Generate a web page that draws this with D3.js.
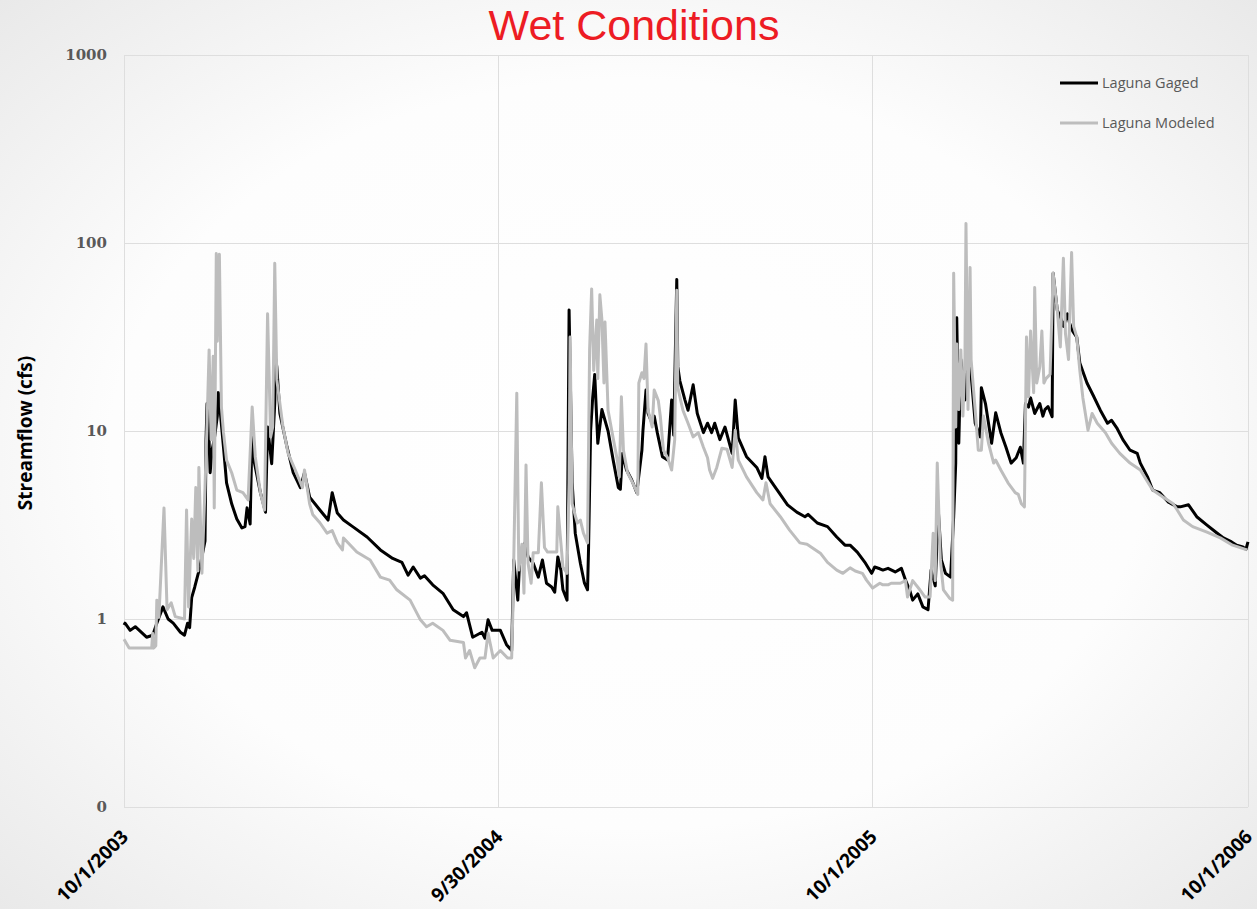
<!DOCTYPE html>
<html>
<head>
<meta charset="utf-8">
<script src="https://cdn.jsdelivr.net/npm/d3@7"></script>
<style>
  html, body { margin: 0; padding: 0; }
  body { width: 1257px; height: 909px; overflow: hidden; }
  svg { display: block; }
</style>
</head>
<body>
<svg id="chart" width="1257" height="909"></svg>
<script>
// Daily streamflow at Laguna, water years 2004-2006.
// Each entry: [days since 10/1/2003, streamflow in cfs]
const startDate = new Date(2003, 9, 1);

const gagedFlow = [
  [0,0.93],[1,0.95],[6,0.87],[11,0.91],[22,0.80],[28,0.82],[32,0.95],[38,1.16],[43,1.0],[48,0.95],
  [55,0.85],[59,0.82],[62,0.95],[64,0.9],[66,1.3],[69,1.48],[74,1.89],[79,2.6],[80,9],[81,14],
  [82,12.5],[84,6],[86,8],[88,9],[91,12],[92,16],[94,12.4],[97,8.2],[100,5.3],[105,4.1],
  [110,3.4],[115,3.05],[118,3.1],[120,3.9],[123,3.2],[125,11],[126,7.3],[133,4.7],[138,3.7],[140,10.5],
  [144,6.7],[147,14],[148,24],[149,22],[152,12.4],[159,8.2],[165,6.0],[172,5.0],[176,6.0],[181,4.45],
  [191,3.8],[199,3.36],[203,4.7],[208,3.66],[214,3.36],[223,3.1],[237,2.73],[250,2.33],[262,2.1],[271,2.0],
  [277,1.71],[282,1.89],[289,1.65],[293,1.7],[301,1.52],[311,1.37],[321,1.12],[331,1.03],[334,1.08],[340,0.80],
  [349,0.85],[352,0.79],[355,0.99],[359,0.87],[367,0.87],[373,0.73],[378,0.68],
  [380,2.06],[384,1.26],[386,2.14],[391,2.54],[394,2.14],[399,1.98],[404,1.67],[408,2.06],[412,1.55],
  [417,1.48],[420,1.39],[423,2.14],[426,1.82],[428,1.43],[432,1.26],[434,44],[437,5.3],[440,2.86],[445,1.98],
  [449,1.55],[452,1.43],[453,2.4],[455,10],[457,15],[459,20],[462,8.6],[466,13],[472,10],[477,7.0],
  [482,5.0],[484,4.9],[486,7.6],[490,6.2],[495,5.5],[500,4.7],[505,7.9],[506,10],[509,16.5],[511,12.4],
  [515,11],[517,12],[520,9.8],[525,7.3],[530,7.0],[534,14.6],[536,9.5],[539,64],[540,22],[542,18.5],
  [547,14.6],[550,12.9],[555,17.6],[559,12.4],[565,9.8],[569,11],[573,9.8],[576,11],[581,9.0],[586,10.5],
  [593,7.6],[596,14.6],[599,9.2],[607,7.3],[617,6.4],[622,5.6],[625,7.3],[628,5.7],[637,4.85],[647,4.05],
  [656,3.7],[664,3.5],[667,3.6],[676,3.24],[686,3.1],[695,2.73],[703,2.47],[708,2.47],[715,2.27],[723,1.98],
  [729,1.75],[732,1.89],
  [737,1.85],[740,1.82],[745,1.86],[752,1.78],[758,1.86],[762,1.61],[766,1.43],[769,1.26],[774,1.36],[779,1.16],
  [784,1.12],[787,1.82],[791,1.5],[794,3.8],[797,2.06],[801,1.75],[806,1.67],[809,3.5],[811,6.75],[812,40],
  [814,8.6],[816,24],[820,14.6],[821,39],[823,26],[826,20],[830,11],[835,9.3],[836,17],[840,14],
  [842,11.9],[846,8.6],[850,12.5],[855,9.8],[860,8.2],[865,6.75],[870,7.2],[874,8.2],[877,6.75],[879,14],
  [882,13.4],[884,15],[888,12.4],[893,14],[896,12],[898,13],[901,13.5],[905,11.9],[906,69],[910,44],
  [913,40.5],[916,36],[920,42],[922,37.5],[925,34],[929,31.6],[932,23],[939,18],[945,15.5],[952,12.9],
  [959,11],[963,11.4],[968,10.4],[974,9.0],[981,7.9],[988,7.6],[991,6.75],[998,5.7],[1003,4.85],[1010,4.7],
  [1018,4.2],[1027,3.95],[1030,3.95],[1038,4.05],[1046,3.5],[1056,3.16],[1066,2.86],[1072,2.7],[1080,2.57],[1085,2.47],
  [1091,2.42],[1094,2.35],[1096,2.57]
];

const modeledFlow = [
  [0,0.78],[5,0.70],[27,0.70],[28,0.84],[29,0.70],[31,0.72],[32,1.26],[34,1.02],[39,3.9],[42,1.12],
  [46,1.22],[50,1.03],[59,1.0],[61,3.8],[63,1.16],[66,3.4],[68,2.1],[70,5.0],[72,1.8],[73,6.4],
  [76,1.75],[79,5.0],[81,11],[83,27],[85,9],[87,25],[88,3.9],[90,88],[91,30],[93,87],
  [95,13.4],[97,9.8],[100,7.0],[105,6.0],[110,4.85],[116,4.7],[121,4.3],[125,13.4],[128,7.3],[133,4.7],
  [137,3.8],[140,42],[143,9.3],[145,10.5],[147,78],[149,18.7],[155,10.5],[160,7.6],[167,6.2],[174,5.0],
  [176,6.2],[181,4.1],[184,3.6],[191,3.25],[198,2.86],[203,2.95],[208,2.54],[213,2.33],[214,2.7],[227,2.27],
  [240,2.06],[250,1.67],[259,1.61],[266,1.43],[279,1.26],[289,0.99],[295,0.91],[301,0.95],[311,0.87],[318,0.77],
  [331,0.75],[333,0.62],[337,0.68],[342,0.55],[347,0.62],[352,0.62],[355,0.84],[360,0.62],[367,0.68],[374,0.62],
  [378,0.62],
  [379,1.0],[383,15.9],[385,1.82],[388,2.5],[390,1.37],[392,6.6],[394,1.98],[397,1.55],[399,2.25],[404,2.25],
  [407,5.3],[410,2.4],[413,2.27],[422,2.27],[423,3.95],[426,2.54],[428,1.89],[432,1.75],[434,5.3],[435,31.6],
  [437,4.1],[442,3.24],[445,3.36],[448,2.86],[452,2.54],[454,27],[456,57],[458,21],[461,39],[462,19],
  [464,53],[466,39],[468,18],[469,38],[472,12.9],[476,9.8],[481,7.0],[483,5.7],[485,15.2],[487,7.9],
  [491,6.0],[496,5.3],[501,4.6],[502,18],[505,20.4],[507,19],[509,29],[511,12.9],[515,10.5],[517,16.5],
  [521,14.5],[523,11.9],[526,7.9],[530,7.2],[534,6.2],[537,9.0],[539,56],[540,17],[545,12.9],[550,11],
  [555,9.3],[560,9.8],[565,8.2],[569,7.2],[571,6.2],[574,5.6],[578,6.4],[583,8.1],[588,8.0],[593,6.4],
  [596,10.1],[599,7.0],[607,5.7],[617,4.7],[623,4.3],[626,5.3],[630,4.1],[640,3.5],[649,2.97],[659,2.54],
  [666,2.5],[679,2.24],[686,2.0],[695,1.82],[701,1.75],[708,1.87],[713,1.8],[720,1.75],[724,1.61],[730,1.46],
  [737,1.55],
  [740,1.52],[745,1.52],[748,1.55],[757,1.55],[762,1.6],[764,1.31],[769,1.6],[776,1.43],[781,1.31],[786,1.31],
  [789,2.86],[791,1.6],[793,6.75],[796,2.06],[799,1.43],[805,1.29],[808,1.26],[809,69],[811,10.5],[812,29],
  [814,13],[816,27],[818,12],[820,24],[821,127],[823,13],[825,74],[826,24],[830,12.9],[833,7.9],
  [836,7.9],[838,12],[843,8.6],[848,6.75],[850,7],[855,6.2],[862,5.3],[869,4.7],[872,4.6],[875,4.1],
  [878,3.95],[880,31.6],[882,15.2],[884,34],[887,16],[888,58],[890,18],[893,22],[895,34],[897,18],
  [899,19],[903,20],[906,69],[910,44],[913,28],[916,83],[918,33],[921,24],[924,89],[926,36],
  [929,31.6],[932,21],[935,15],[940,10.1],[944,12.4],[949,11],[957,9.8],[963,8.6],[971,7.6],[981,6.75],
  [991,6.2],[1003,4.85],[1013,4.45],[1023,4.1],[1027,3.8],[1033,3.36],[1042,3.1],[1056,2.9],[1069,2.7],[1081,2.47],
  [1095,2.33]
];

const yTickValues = [0.1, 1, 10, 100, 1000];
const yTickLabels = ["0", "1", "10", "100", "1000"];
const xTickDays = [0, 365, 730, 1096];
const xTickLabels = ["10/1/2003", "9/30/2004", "10/1/2005", "10/1/2006"];
const seriesNames = ["Laguna Gaged", "Laguna Modeled"];
const seriesColors = ["#000000", "#bdbdbd"];

const W = 1257, H = 909;
const plot = { left: 124, right: 1248, top: 55, bottom: 807 };

const svg = d3.select("#chart");

// slide background: soft grey vignette
const defs = svg.append("defs");
const grad = defs.append("radialGradient")
  .attr("id", "bg").attr("cx", "50%").attr("cy", "50%").attr("r", "75%");
grad.append("stop").attr("offset", "0%").attr("stop-color", "#ffffff");
grad.append("stop").attr("offset", "55%").attr("stop-color", "#fdfdfd");
grad.append("stop").attr("offset", "100%").attr("stop-color", "#e6e6e6");
svg.append("rect").attr("width", W).attr("height", H).attr("fill", "url(#bg)");

const toDate = d => d3.timeDay.offset(startDate, d);

const x = d3.scaleTime()
  .domain([startDate, toDate(1096)])
  .range([plot.left, plot.right]);
const y = d3.scaleLog()
  .domain([0.1, 1000])
  .range([plot.bottom, plot.top]);

// gridlines
const grid = svg.append("g");
grid.selectAll("line.h").data(yTickValues).join("line")
  .attr("x1", plot.left).attr("x2", plot.right)
  .attr("y1", d => y(d)).attr("y2", d => y(d))
  .attr("stroke", "#dedede").attr("stroke-width", 1).attr("shape-rendering", "crispEdges");
grid.selectAll("line.v").data(xTickDays).join("line")
  .attr("x1", d => x(toDate(d))).attr("x2", d => x(toDate(d)))
  .attr("y1", plot.top).attr("y2", plot.bottom)
  .attr("stroke", "#dedede").attr("stroke-width", 1).attr("shape-rendering", "crispEdges");

// y axis labels
const yAxis = d3.axisLeft(y)
  .tickValues(yTickValues)
  .tickFormat((d, i) => yTickLabels[i])
  .tickSize(0).tickPadding(17);
const yg = svg.append("g").attr("transform", `translate(${plot.left},0)`).call(yAxis);
yg.select(".domain").remove();
yg.selectAll("text")
  .attr("font-family", "'DejaVu Serif', serif")
  .attr("font-weight", "bold")
  .attr("font-size", 15)
  .attr("fill", "#595959");

// x axis labels (rotated)
const xAxis = d3.axisBottom(x)
  .tickValues(xTickDays.map(toDate))
  .tickFormat((d, i) => xTickLabels[i])
  .tickSize(0);
const xg = svg.append("g").attr("transform", `translate(0,${plot.bottom})`).call(xAxis);
xg.select(".domain").remove();
xg.selectAll("text")
  .attr("font-family", "'Open Sans', sans-serif")
  .attr("font-weight", "bold")
  .attr("font-size", 19)
  .attr("fill", "#000")
  .attr("text-anchor", "end")
  .attr("dy", 0)
  .attr("y", 0)
  .attr("transform", "translate(5,31) rotate(-45)");

// series lines
const line = d3.line()
  .x(d => x(toDate(d[0])))
  .y(d => y(d[1]));

[gagedFlow, modeledFlow].forEach((data, i) => {
  svg.append("path")
    .datum(data)
    .attr("fill", "none")
    .attr("stroke", seriesColors[i])
    .attr("stroke-width", 3)
    .attr("stroke-linejoin", "round")
    .attr("d", line);
});

// title
svg.append("text")
  .attr("x", 634).attr("y", 40)
  .attr("text-anchor", "middle")
  .attr("font-family", "'Liberation Sans', Arial, sans-serif")
  .attr("font-size", 43)
  .attr("fill", "#ed1c24")
  .text("Wet Conditions");

// y axis title
svg.append("text")
  .attr("transform", "translate(32,433) rotate(-90)")
  .attr("text-anchor", "middle")
  .attr("font-family", "'Open Sans', sans-serif")
  .attr("font-weight", "bold")
  .attr("font-size", 19)
  .attr("fill", "#000")
  .text("Streamflow (cfs)");

// legend
const legend = svg.append("g");
seriesNames.forEach((name, i) => {
  const ly = 83 + i * 40;
  legend.append("line")
    .attr("x1", 1060).attr("x2", 1098).attr("y1", ly).attr("y2", ly)
    .attr("stroke", seriesColors[i]).attr("stroke-width", 3);
  legend.append("text")
    .attr("x", 1102).attr("y", ly + 5)
    .attr("font-family", "'Open Sans', sans-serif")
    .attr("font-size", 14.5)
    .attr("fill", "#595959")
    .text(name);
});
</script>
</body>
</html>
